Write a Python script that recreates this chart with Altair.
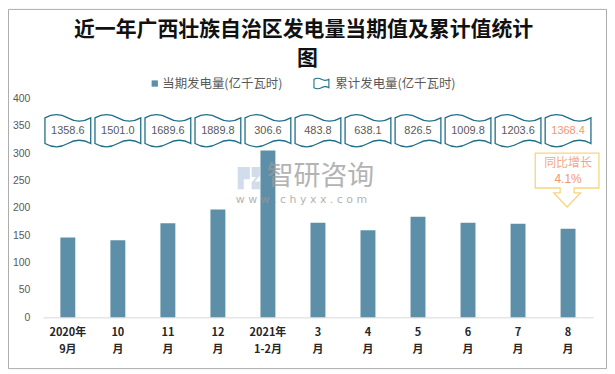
import altair as alt
import pandas as pd

# ---- data ----
categories = ["2020年|9月", "10|月", "11|月", "12|月", "2021年|1-2月",
              "3|月", "4|月", "5|月", "6|月", "7|月", "8|月"]
current_values = [146, 141, 172, 197, 305, 173, 159, 184, 173, 171, 162]
cumulative_labels = ["1358.6", "1501.0", "1689.6", "1889.8", "306.6", "483.8",
                     "638.1", "826.5", "1009.8", "1203.6", "1368.4"]
yoy_text = ["同比增长", "4.1%"]
y_ticks = [0, 50, 100, 150, 200, 250, 300, 350, 400]

title_line1 = "近一年广西壮族自治区发电量当期值及累计值统计"
title_line2 = "图"
legend_labels = ["当期发电量(亿千瓦时)", "累计发电量(亿千瓦时)"]

df = pd.DataFrame({
    "category": categories,
    "value": current_values,
    "cum": cumulative_labels,
    "last": [False] * (len(categories) - 1) + [True],
})
one = pd.DataFrame({"a": [0]})

BAR = "#5D8FA8"
FLAG = "#1F6F8B"
SALMON = "#F39770"
GREY = "#595959"

FLAG_PATH = ("M-1,-0.56 C-0.67,-0.75 -0.33,-0.75 0,-0.56 C0.33,-0.37 0.67,-0.37 1,-0.56 "
             "L1,0.56 C0.67,0.37 0.33,0.37 0,0.56 C-0.33,0.75 -0.67,0.75 -1,0.56 Z")
CALLOUT_PATH = ("M-1.03,-0.86 L0.97,-0.86 L0.97,0.234 L0.19,0.234 L0.19,0.39 L0.39,0.39 "
                "L-0.03,0.83 L-0.45,0.39 L-0.25,0.39 L-0.25,0.234 L-1.03,0.234 Z")

x_enc = alt.X("category:N", sort=categories, title=None,
              scale=alt.Scale(paddingInner=0.0, paddingOuter=0.0),
              axis=alt.Axis(labelAngle=0, ticks=False, domainColor="#D9D9D9",
                            domainWidth=1, labelFontWeight="bold", labelFontSize=11,
                            labelColor="#262626", labelFont="Noto Sans CJK SC",
                            labelPadding=9, labelLineHeight=17,
                            labelExpr="split(datum.label, '|')"))
y_scale = alt.Scale(domain=[0, 400], nice=False)
y_axis = alt.Axis(values=y_ticks, grid=False, domain=False, labelOverlap=False,
                  ticks=False, labelFontSize=10.5, labelColor=GREY,
                  labelFont="Liberation Sans", labelPadding=13, title=None)


def ydat(v):
    return alt.YDatum(v, type="quantitative", scale=y_scale, axis=y_axis)


bars = alt.Chart(df).mark_bar(size=15, color=BAR).encode(
    x=x_enc,
    y=alt.Y("value:Q", scale=y_scale, title=None, axis=y_axis),
)

flags = alt.Chart(df).mark_point(shape=FLAG_PATH, size=2116, filled=True, fill="white",
                                 stroke=FLAG, strokeWidth=1.3, opacity=1).encode(
    x=alt.X("category:N", sort=categories),
    y=ydat(341),
)

flag_text = alt.Chart(df).mark_text(fontSize=11, font="Liberation Sans").encode(
    x=alt.X("category:N", sort=categories),
    y=ydat(341),
    text="cum:N",
    color=alt.condition(alt.datum.last, alt.value(SALMON), alt.value(GREY)),
)

last_df = df[df["last"]]
callout = alt.Chart(last_df).mark_point(shape=CALLOUT_PATH, size=4096, filled=True,
                                        fill="white", stroke="#F8D57E",
                                        strokeWidth=1.3, opacity=1).encode(
    x=alt.X("category:N", sort=categories),
    y=ydat(250),
)
callout_t1 = alt.Chart(last_df).mark_text(fontSize=12, font="Noto Sans CJK SC",
                                          color="#F4A88A").encode(
    x=alt.X("category:N", sort=categories), y=ydat(281.5),
    text=alt.value(yoy_text[0]))
callout_t2 = alt.Chart(last_df).mark_text(fontSize=12, font="Liberation Sans",
                                          color=SALMON).encode(
    x=alt.X("category:N", sort=categories), y=ydat(253),
    text=alt.value(yoy_text[1]))

# ---- decorations: border, title, legend, watermark ----
border = alt.Chart(one).mark_rect(fill=None, stroke="#ABABAB", strokeWidth=1).encode(
    x=alt.value(-34.5), x2=alt.value(566.5), y=alt.value(-89.5), y2=alt.value(271.5))

t1 = alt.Chart(one).mark_text(fontSize=21, fontWeight="bold", font="Noto Sans CJK SC",
                              color="#111111").encode(
    x=alt.value(262), y=alt.value(-69), text=alt.value(title_line1))
t2 = alt.Chart(one).mark_text(fontSize=21, fontWeight="bold", font="Noto Sans CJK SC",
                              color="#111111").encode(
    x=alt.value(266), y=alt.value(-40), text=alt.value(title_line2))

leg_sq = alt.Chart(one).mark_point(shape="square", size=40, filled=True, color=BAR,
                                   opacity=1).encode(x=alt.value(112.5), y=alt.value(-15))
leg_t1 = alt.Chart(one).mark_text(fontSize=12.5, font="Noto Sans CJK SC", color=GREY,
                                  align="left").encode(
    x=alt.value(120), y=alt.value(-15), text=alt.value(legend_labels[0]))
leg_flag = alt.Chart(one).mark_point(shape=FLAG_PATH, size=225, filled=True, fill="white",
                                     stroke=FLAG, strokeWidth=1.1, opacity=1).encode(
    x=alt.value(280), y=alt.value(-15))
leg_t2 = alt.Chart(one).mark_text(fontSize=12.5, font="Noto Sans CJK SC", color=GREY,
                                  align="left").encode(
    x=alt.value(294), y=alt.value(-15), text=alt.value(legend_labels[1]))

LOGO_PATH = ("M-1,-1 L0.1,-1 L0.1,0.1 L-0.45,0.1 L-0.45,1 L-1,1 Z "
             "M0.25,-1 L1,-1 L1,-0.2 L0.55,0.3 L1,0.3 L1,1 L0.25,1 L0.25,0.4 L0.65,-0.1 L0.25,-0.1 Z")
wm_logo = alt.Chart(one).mark_point(shape=LOGO_PATH, size=500, filled=True,
                                    color="#C3D1E6", opacity=0.75).encode(
    x=alt.value(207), y=alt.value(80))
wm_t1 = alt.Chart(one).mark_text(fontSize=27, font="Noto Sans CJK SC", color="#9a9a9a",
                                 opacity=0.75, align="left").encode(
    x=alt.value(225), y=alt.value(79), text=alt.value("智研咨询"))
wm_t2 = alt.Chart(one).mark_text(fontSize=11, font="DejaVu Sans", color="#9a9a9a",
                                 opacity=0.75, align="left").encode(
    x=alt.value(194), y=alt.value(102), text=alt.value("w w w . c h y x x . c o m"))

chart = alt.layer(
    border, bars, wm_logo, wm_t1, wm_t2, flags, flag_text, callout, callout_t1, callout_t2,
    t1, t2, leg_sq, leg_t1, leg_flag, leg_t2,
).properties(
    width=553, height=220,
    autosize=alt.AutoSizeParams(type="none"),
    padding={"left": 35, "top": 90, "right": 14, "bottom": 52},
    background="white",
).configure_view(stroke=None)

chart.save("out.html", embed_options={"renderer": "svg", "actions": False})
